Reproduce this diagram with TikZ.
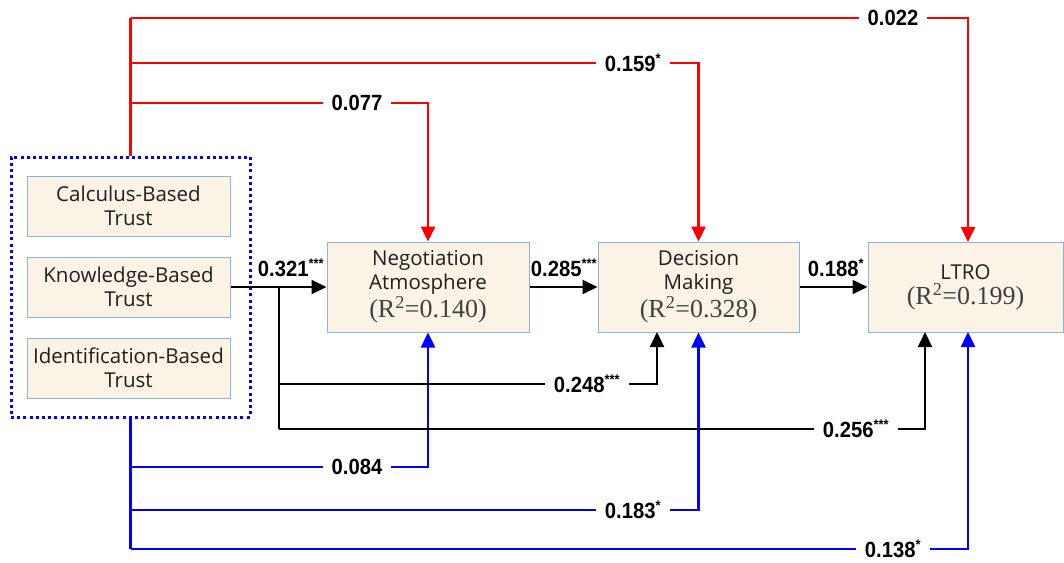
\documentclass[tikz,border=0pt]{standalone}
\usepackage{fontspec}
\setmainfont{Liberation Serif}
\newfontfamily\boxfont{Open Sans}
\newfontfamily\coeffont[FakeStretch=0.92]{Liberation Sans}
\usetikzlibrary{arrows.meta}
\definecolor{boxfill}{RGB}{251,243,230}
\definecolor{boxline}{RGB}{140,178,222}
\definecolor{pureblue}{RGB}{0,0,255}
\definecolor{purered}{RGB}{255,0,0}
\tikzset{
  varbox/.style={draw=boxline, line width=1pt, fill=boxfill, align=center,
    font=\boxfont\fontsize{20.5}{24}\selectfont, text=black!88, inner sep=0pt},
  trustbox/.style={varbox, minimum width=203pt, minimum height=60pt},
  mainbox/.style={varbox, minimum height=90pt},
  groupbox/.style={draw=pureblue, line width=3pt, dash pattern=on 3pt off 3.2pt,
    minimum width=239pt, minimum height=260pt, inner sep=0pt},
  tip/.style={-{Triangle[length=15pt,width=14pt]}},
  redpath/.style={draw=purered, line width=2.5pt},
  bluepath/.style={draw=pureblue, line width=2.5pt},
  blackpath/.style={draw=black, line width=2pt},
  coef/.style={font=\coeffont\bfseries\fontsize{22}{24}\selectfont, inner sep=1pt},
  gapcoef/.style={coef, fill=white, inner xsep=9pt, inner ysep=2pt},
}
\newcommand{\sig}[1]{\textsuperscript{\fontsize{14}{14}\selectfont #1}}
\newcommand{\rsqline}[1]{{\rmfamily\fontsize{26}{26}\selectfont\color{black!75}(R\textsuperscript{2}=#1)}}
\begin{document}
\begin{tikzpicture}[x=1pt,y=-1pt]
\useasboundingbox (0,0) rectangle (1064,562);

% trust dimensions
\node[trustbox] (cbt) at (128.5,206) {Calculus-Based\\Trust};
\node[trustbox] (kbt) at (128.5,287) {Knowledge-Based\\Trust};
\node[trustbox] (ibt) at (128.5,368) {Identification-Based\\Trust};
\node[groupbox] (grp) at (130.5,287) {};

% outcome variables
\node[mainbox, minimum width=202pt] (na) at (428,287)
  {Negotiation\\Atmosphere\\[1pt]\rsqline{0.140}};
\node[mainbox, minimum width=201pt] (dm) at (698.5,287)
  {Decision\\Making\\[1pt]\rsqline{0.328}};
\node[mainbox, minimum width=195pt] (ltro) at (965.5,287)
  {LTRO\\[1pt]\rsqline{0.199}};

% routing points
\coordinate (rtop) at (130.5,18);
\coordinate (rmid) at (130.5,63);
\coordinate (rlow) at (130.5,103);
\coordinate (bhigh) at (130.5,467);
\coordinate (bmid) at (130.5,510);
\coordinate (bbot) at (130.5,549);
\coordinate (split) at (279,287);
\coordinate (kdm) at (279,384);
\coordinate (klt) at (279,429);

% calculus-based trust paths (red)
\draw[redpath] (grp.north) -- (rtop);
\draw[redpath, tip] (rtop) -- (968,18) -- (968,242);
\draw[redpath, tip] (rmid) -- (dm.north |- rmid) -- (dm.north);
\draw[redpath, tip] (rlow) -- (na.north |- rlow) -- (na.north);

% identification-based trust paths (blue)
\draw[bluepath] (grp.south) -- (bbot);
\draw[bluepath, tip] (bbot) -- (968,549) -- (968,332);
\draw[bluepath, tip] (bmid) -- (dm.south |- bmid) -- (dm.south);
\draw[bluepath, tip] (bhigh) -- (na.south |- bhigh) -- (na.south);

% knowledge-based trust paths (black)
\draw[blackpath, tip] (kbt.east) -- (na.west);
\draw[blackpath] (split) -- (klt);
\draw[blackpath, tip] (kdm) -- (657,384) -- (657,332);
\draw[blackpath, tip] (klt) -- (925,429) -- (925,332);

% mediated chain
\draw[blackpath, tip] (na.east) -- (dm.west);
\draw[blackpath, tip] (dm.east) -- (ltro.west);

% coefficients
\node[coef] (c321) at (291,268) {0.321\sig{***}};
\node[coef] (c285) at (564,268) {0.285\sig{***}};
\node[coef] (c188) at (836,268) {0.188\sig{*}};
\node[gapcoef] (c022) at (893,18) {0.022};
\node[gapcoef] (c159) at (633,63) {0.159\sig{*}};
\node[gapcoef] (c077) at (357,103) {0.077};
\node[gapcoef] (c248) at (587,384) {0.248\sig{***}};
\node[gapcoef] (c256) at (856,429) {0.256\sig{***}};
\node[gapcoef] (c084) at (357,467) {0.084};
\node[gapcoef] (c183) at (633,510) {0.183\sig{*}};
\node[gapcoef] (c138) at (893,549) {0.138\sig{*}};
\end{tikzpicture}
\end{document}
